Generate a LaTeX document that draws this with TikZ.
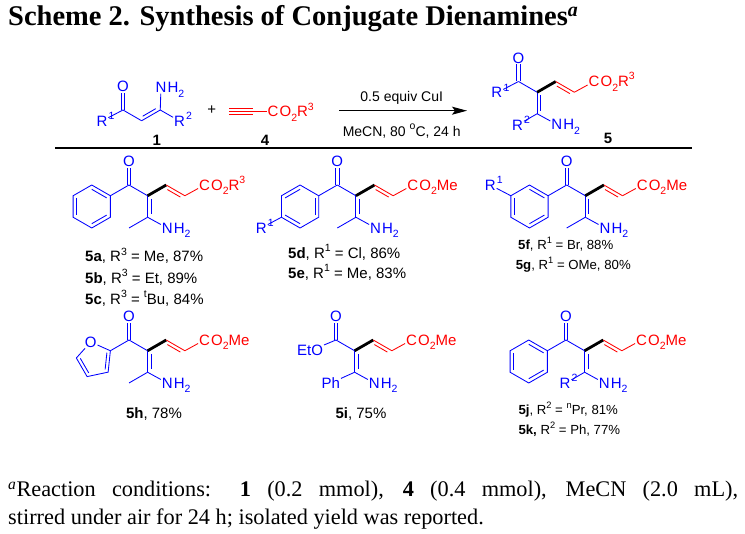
\documentclass[tikz,border=0pt]{standalone}
\usepackage{fontspec}
\setmainfont{Liberation Serif}
\newfontfamily\arial{Liberation Sans}
\usetikzlibrary{calc,arrows.meta}
\definecolor{cblue}{RGB}{0,0,255}
\definecolor{cred}{RGB}{255,0,0}
\newcommand{\labfont}{\arial\fontsize{15}{17}\selectfont}
\newcommand{\capfont}{\arial\fontsize{15}{17}\selectfont}
\newcommand{\capsmall}{\arial\fontsize{13.2}{15}\selectfont}
\newcommand{\condfont}{\arial\fontsize{14}{16}\selectfont}
\newcommand{\chsub}[1]{\raisebox{-0.3em}{\fontsize{10.5}{11}\selectfont #1}}
\newcommand{\chsup}[1]{\raisebox{0.45em}{\fontsize{10.5}{11}\selectfont #1}}
\newcommand{\chsupsm}[1]{\raisebox{0.45em}{\fontsize{9.3}{10}\selectfont #1}}
\def\RL{21.5}\def\bh{18.62}\def\bv{10.75}
\tikzset{
 lab/.style={font=\labfont, inner sep=0.8pt},
 bb/.style={draw=cblue, line width=0.85pt},
 rb/.style={draw=cred, line width=0.85pt},
 boldb/.style={draw=black, line width=2.8pt},
 rulel/.style={draw=black, line width=1.2pt},
 rxn/.style={draw=black, line width=1.1pt, -{Stealth[length=15pt,width=8pt,inset=3pt]}},
 captxt/.style={font=\capfont, inner sep=0, anchor=base west},
 capsm/.style={font=\capsmall, inner sep=0, anchor=base west},
}
% double bond with inner line
\newcommand{\dbin}[5]{%
 \draw[#1] (#2)--(#3);
 \draw[#1] ($(#2)!0.15!(#3)!3.4pt!#4:(#3)$) -- ($(#3)!0.15!(#2)!3.4pt!#5:(#2)$);}
% R label with superscript
\newcommand{\rlab}[3]{%
 \node[lab,text=cblue] (#1) at (#2) {R};
 \node[lab,text=cblue,anchor=base west,inner sep=0] at (#1.base east) {\chsup{#3}};}
% benzene ring: prefix, center
\newcommand{\benz}[2]{%
 \coordinate (#1c) at (#2);
 \foreach \a/\n in {-30/1,-90/2,-150/3,150/4,90/5,30/6}{\coordinate (#1\n) at ($(#1c)+(\a:\RL)$);}
 \draw[bb,line join=miter] (#11)--(#12)--(#13)--(#14)--(#15)--(#16)--cycle;}
\newcommand{\rin}[3]{\draw[bb] ($(#1c)!0.8!(#1#2)$) -- ($(#1c)!0.8!(#1#3)$);}
% dienamine core: prefix, carbonyl C position, ester tail
\newcommand{\core}[3]{%
 \begin{scope}[shift={#2}]
 \coordinate (#1c1) at (0,0);
 \node[lab,text=cblue] (#1O) at (0,-23.5) {O};
 \coordinate (#1c2) at (\bh,\bv);
 \coordinate (#1c3) at (\bh,\bv+\RL);
 \coordinate (#1c4) at (2*\bh,0);
 \coordinate (#1c5) at (3*\bh,\bv);
 \node[lab,text=cred] (#1E) at (4*\bh+1,0) {C};
 \node[lab,text=cred,anchor=base west,inner sep=0] at (#1E.base east) {O\chsub{2}#3};
 \node[lab,text=cblue] (#1N) at (2*\bh+1,2*\bv+\RL) {N};
 \node[lab,text=cblue,anchor=base west,inner sep=0] at (#1N.base east) {H\chsub{2}};
 \coordinate (#1s) at (0,2*\bv+\RL);
 \draw[bb] ($(#1c1)+(-1.65,0)$) -- ($(#1O.south)+(-1.65,0)$);
 \draw[bb] ($(#1c1)+(1.65,0)$) -- ($(#1O.south)+(1.65,0)$);
 \draw[bb] (#1c1)--(#1c2);
 \dbin{bb}{#1c2}{#1c3}{90}{-90}
 \draw[bb] (#1c3)--(#1N);
 \draw[boldb] (#1c2)--(#1c4);
 \dbin{rb}{#1c4}{#1c5}{-90}{90}
 \draw[rb] (#1c5)--(#1E);
 \end{scope}}
\begin{document}
\begin{tikzpicture}[x=1pt,y=-1pt]
\useasboundingbox (0,0) rectangle (745,534);
\fill[white] (0,0) rectangle (745,534);
% title
\node[anchor=base west, inner sep=0] (title) at (8,26) {\fontsize{28.5}{32}\selectfont\bfseries Scheme 2. Synthesis of Conjugate Dienamines\textsuperscript{\itshape a}};
% ---------- reaction row ----------
% compound 1
\coordinate (k1) at (123,110);
\node[lab,text=cblue] (k1O) at (123,86.5) {O};
\coordinate (k2) at (141.62,120.75);
\coordinate (k3) at (160.24,110);
\node[lab,text=cblue] (k1N) at (161,87.5) {N};
\node[lab,text=cblue,anchor=base west,inner sep=0] at (k1N.base east) {H\chsub{2}};
\rlab{k1R}{102,121}{1}
\rlab{k2R}{179.5,121}{2}
\draw[bb] ($(k1)+(-1.65,0)$) -- ($(k1O.south)+(-1.65,0)$);
\draw[bb] ($(k1)+(1.65,0)$) -- ($(k1O.south)+(1.65,0)$);
\draw[bb] (k1)--(k1R);
\draw[bb] (k1)--(k2);
\dbin{bb}{k2}{k3}{90}{-90}
\draw[bb] (k3)--(k1N);
\draw[bb] (k3)--(k2R);
\node[font=\labfont\bfseries] (n1) at (156.7,140) {1};
\node[font=\labfont] (plus) at (211.7,110.5) {+};
% compound 4
\coordinate (t1) at (229,111.7);
\coordinate (t2) at (253,111.7);
\node[lab,text=cred] (t4C) at (273,111.7) {C};
\node[lab,text=cred,anchor=base west,inner sep=0] at (t4C.base east) {O\chsub{2}R\chsup{3}};
\draw[rb] (t1)--(t2);
\draw[rb] ($(t1)+(0,-3.2)$)--($(t2)+(0,-3.2)$);
\draw[rb] ($(t1)+(0,3.2)$)--($(t2)+(0,3.2)$);
\draw[rb] (t2)--(t4C);
\node[font=\labfont\bfseries] (n4) at (265,140) {4};
% arrow
\coordinate (ar1) at (339,110.7);
\coordinate (ar2) at (467,110.7);
\draw[rxn] (ar1)--(ar2);
\node[font=\condfont] (cond1) at (401.7,98) {0.5 equiv CuI};
\node[font=\condfont] (cond2) at (401.7,131) {MeCN, 80 \chsup{o}C, 24 h};
% compound 5
\core{r}{(518.5,81.5)}{R\chsup{3}}
\rlab{rR1}{$(rc1)+(-\bh-3,\bv+0.5)$}{1}
\rlab{rR2}{$(rc3)+(-\bh-1,\bv+0.5)$}{2}
\draw[bb] (rc1)--(rR1);
\draw[bb] (rc3)--(rR2);
\node[font=\labfont\bfseries] (n5) at (608,138) {5};
% rule
\coordinate (ru1) at (55,148);
\coordinate (ru2) at (692,148);
\draw[rulel] (ru1)--(ru2);
% ---------- 5a-c ----------
\core{a}{(129,185)}{R\chsup{3}}
\draw[bb] (ac3)--(as);
\benz{aR}{91.76,206.5}
\rin{aR}{1}{2}\rin{aR}{3}{4}\rin{aR}{5}{6}
\draw[bb] (ac1)--(aR1);
\node[captxt] (c5a) at (85,262) {\textbf{5a}, R\chsup{3} = Me, 87\%};
\node[captxt] (c5b) at (85,283.5) {\textbf{5b}, R\chsup{3} = Et, 89\%};
\node[captxt] (c5c) at (85,304.5) {\textbf{5c}, R\chsup{3} = \chsup{t}Bu, 84\%};
% ---------- 5d-e ----------
\core{d}{(337.3,185)}{Me}
\draw[bb] (dc3)--(ds);
\benz{dR}{300.06,206.5}
\rin{dR}{2}{3}\rin{dR}{4}{5}\rin{dR}{6}{1}
\draw[bb] (dc1)--(dR1);
\rlab{dX}{$(dR4)+(150:\RL)+(-1.5,0)$}{1}
\draw[bb] (dR4)--(dX);
\node[captxt] (c5d) at (288,258.7) {\textbf{5d}, R\chsup{1} = Cl, 86\%};
\node[captxt] (c5e) at (288,278.7) {\textbf{5e}, R\chsup{1} = Me, 83\%};
% ---------- 5f-g ----------
\core{f}{(566.7,185)}{Me}
\draw[bb] (fc3)--(fs);
\benz{fR}{529.46,206.5}
\rin{fR}{1}{2}\rin{fR}{3}{4}\rin{fR}{5}{6}
\draw[bb] (fc1)--(fR1);
\rlab{fX}{$(fR3)+(-150:\RL)+(-2,0)$}{1}
\draw[bb] (fR3)--(fX);
\node[capsm] (c5f) at (518,249.7) {\textbf{5f}, R\chsupsm{1} = Br, 88\%};
\node[capsm] (c5g) at (515.7,269.7) {\textbf{5g}, R\chsupsm{1} = OMe, 80\%};
% ---------- 5h ----------
\core{h}{(129,340)}{Me}
\draw[bb] (hc3)--(hs);
\coordinate (hFc) at (94.54,359.9);
\coordinate (hF1) at ($(hFc)+(-30:18.29)$);
\node[lab,text=cblue] (hFO) at ($(hFc)+(-102:18.29)$) {O};
\coordinate (hF3) at ($(hFc)+(-174:18.29)$);
\coordinate (hF4) at ($(hFc)+(114:18.29)$);
\coordinate (hF5) at ($(hFc)+(42:18.29)$);
\draw[bb] (hF1)--(hFO)--(hF3);
\draw[bb,line join=miter] (hF3)--(hF4)--(hF5)--(hF1);
\draw[bb] ($(hFc)!0.78!(hF3)$)--($(hFc)!0.78!(hF4)$);
\draw[bb] ($(hFc)!0.78!(hF5)$)--($(hFc)!0.78!(hF1)$);
\draw[bb] (hc1)--(hF1);
\node[captxt,anchor=base] (c5h) at (154,418.4) {\textbf{5h}, 78\%};
% ---------- 5i ----------
\core{i}{(336,340)}{Me}
\node[lab,text=cblue,anchor=east] (iEt) at ($(ic1)+(-\bh+6.6,\bv)$) {EtO};
\node[lab,text=cblue,anchor=east] (iPh) at ($(ic3)+(-\bh+5,\bv)$) {Ph};
\draw[bb] (ic1)--(iEt);
\draw[bb] (ic3)--(iPh);
\node[captxt,anchor=base] (c5i) at (361,418.4) {\textbf{5i}, 75\%};
% ---------- 5j-k ----------
\core{j}{(566,340)}{Me}
\benz{jR}{528.76,361.5}
\rin{jR}{1}{2}\rin{jR}{3}{4}\rin{jR}{5}{6}
\draw[bb] (jc1)--(jR1);
\rlab{jR2}{$(jc3)+(-\bh-1,\bv+0.5)$}{2}
\draw[bb] (jc3)--(jR2);
\node[capsm] (c5j) at (518.3,414.7) {\textbf{5j}, R\chsupsm{2} = \chsupsm{n}Pr, 81\%};
\node[capsm] (c5k) at (518.3,434.7) {\textbf{5k,} R\chsupsm{2} = Ph, 77\%};
% ---------- footnote ----------
\node[anchor=base west, inner sep=0] (fn1) at (8,497) {\fontsize{22.3}{26}\selectfont\makebox[730pt][s]{\textsuperscript{\itshape a}Reaction conditions: \textbf{1} (0.2 mmol), \textbf{4} (0.4 mmol), MeCN (2.0 mL),}};
\node[anchor=base west, inner sep=0] (fn2) at (8,525) {\fontsize{22.3}{26}\selectfont stirred under air for 24 h; isolated yield was reported.};
\end{tikzpicture}
\end{document}
